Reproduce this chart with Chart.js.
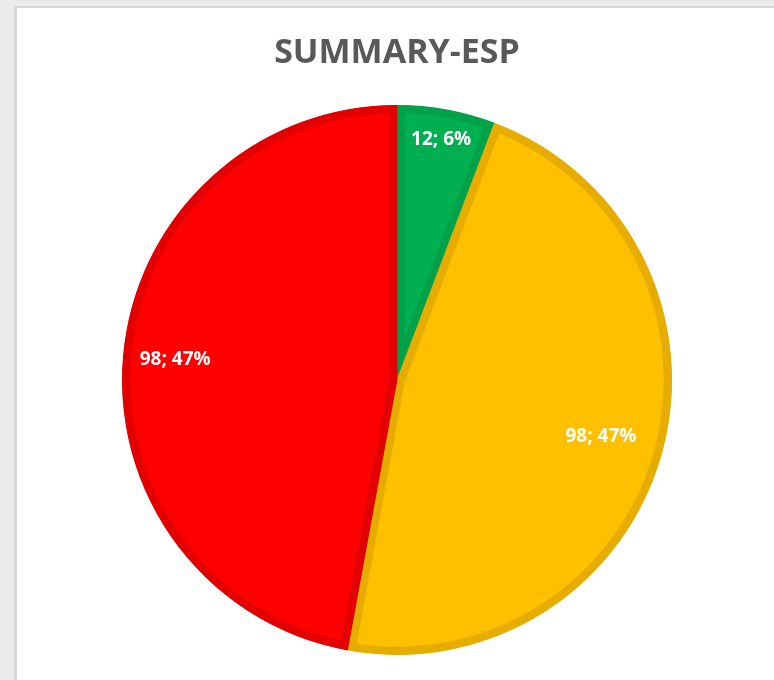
<!DOCTYPE html>
<html>
<head>
<meta charset="utf-8">
<script src="https://cdn.jsdelivr.net/npm/chart.js@4.4.1/dist/chart.umd.min.js"></script>
<style>
  html, body { margin: 0; padding: 0; width: 774px; height: 680px; overflow: hidden; background: #ebebeb; }
  #panel { position: absolute; left: 14px; top: 6px; width: 800px; height: 700px; background: #ffffff; border-left: 3px solid #d6d6d6; border-top: 2px solid #d6d6d6; }
  #wrap { position: absolute; left: 0; top: 0; width: 774px; height: 680px; }
</style>
</head>
<body>
<div id="panel"></div>
<div id="wrap"><canvas id="c" width="774" height="680"></canvas></div>
<script>
const categories = ["Green", "Yellow", "Red"];
const values = [12, 98, 98];
const titleText = "SUMMARY-ESP";
const fillColors = ["#00b050", "#ffc000", "#ff0000"];
const borderColors = ["#00a249", "#e6ad00", "#e20000"];

const labelPlugin = {
  id: 'sliceLabels',
  afterDatasetsDraw(chart, args, opts) {
    const ctx = chart.ctx;
    const meta = chart.getDatasetMeta(0);
    const data = chart.data.datasets[0].data;
    const total = data.reduce((a, b) => a + b, 0);
    ctx.save();
    ctx.fillStyle = '#ffffff';
    ctx.font = opts.font;
    ctx.textAlign = 'center';
    ctx.textBaseline = 'middle';
    meta.data.forEach((arc, i) => {
      const p = arc.getProps(['x', 'y', 'startAngle', 'endAngle', 'outerRadius'], true);
      const mid = (p.startAngle + p.endAngle) / 2;
      const r = p.outerRadius * opts.radiusFrac[i];
      const x = p.x + Math.cos(mid) * r;
      const y = p.y + Math.sin(mid) * r;
      const pct = Math.round(data[i] / total * 100);
      ctx.fillText(data[i] + '; ' + pct + '%', x, y);
    });
    ctx.restore();
  }
};

new Chart(document.getElementById('c'), {
  type: 'pie',
  data: {
    labels: categories,
    datasets: [{
      data: values,
      backgroundColor: fillColors,
      borderColor: borderColors,
      borderWidth: 8,
      borderAlign: 'inner',
      hoverOffset: 0,
      offset: 0,
      radius: 275
    }]
  },
  options: {
    responsive: false,
    animation: false,
    events: [],
    layout: { padding: { left: 20, right: 0, top: 0, bottom: 26 } },
    plugins: {
      legend: { display: false },
      tooltip: { enabled: false },
      title: {
        display: true,
        text: titleText,
        color: '#595959',
        font: { family: 'Open Sans', size: 34, weight: 'bold', lineHeight: 1.2 },
        padding: { top: 33, bottom: 32 }
      },
      sliceLabels: {
        font: 'bold 19px "Open Sans"',
        radiusFrac: [0.89, 0.77, 0.81]
      }
    }
  },
  plugins: [labelPlugin]
});
</script>
</body>
</html>
